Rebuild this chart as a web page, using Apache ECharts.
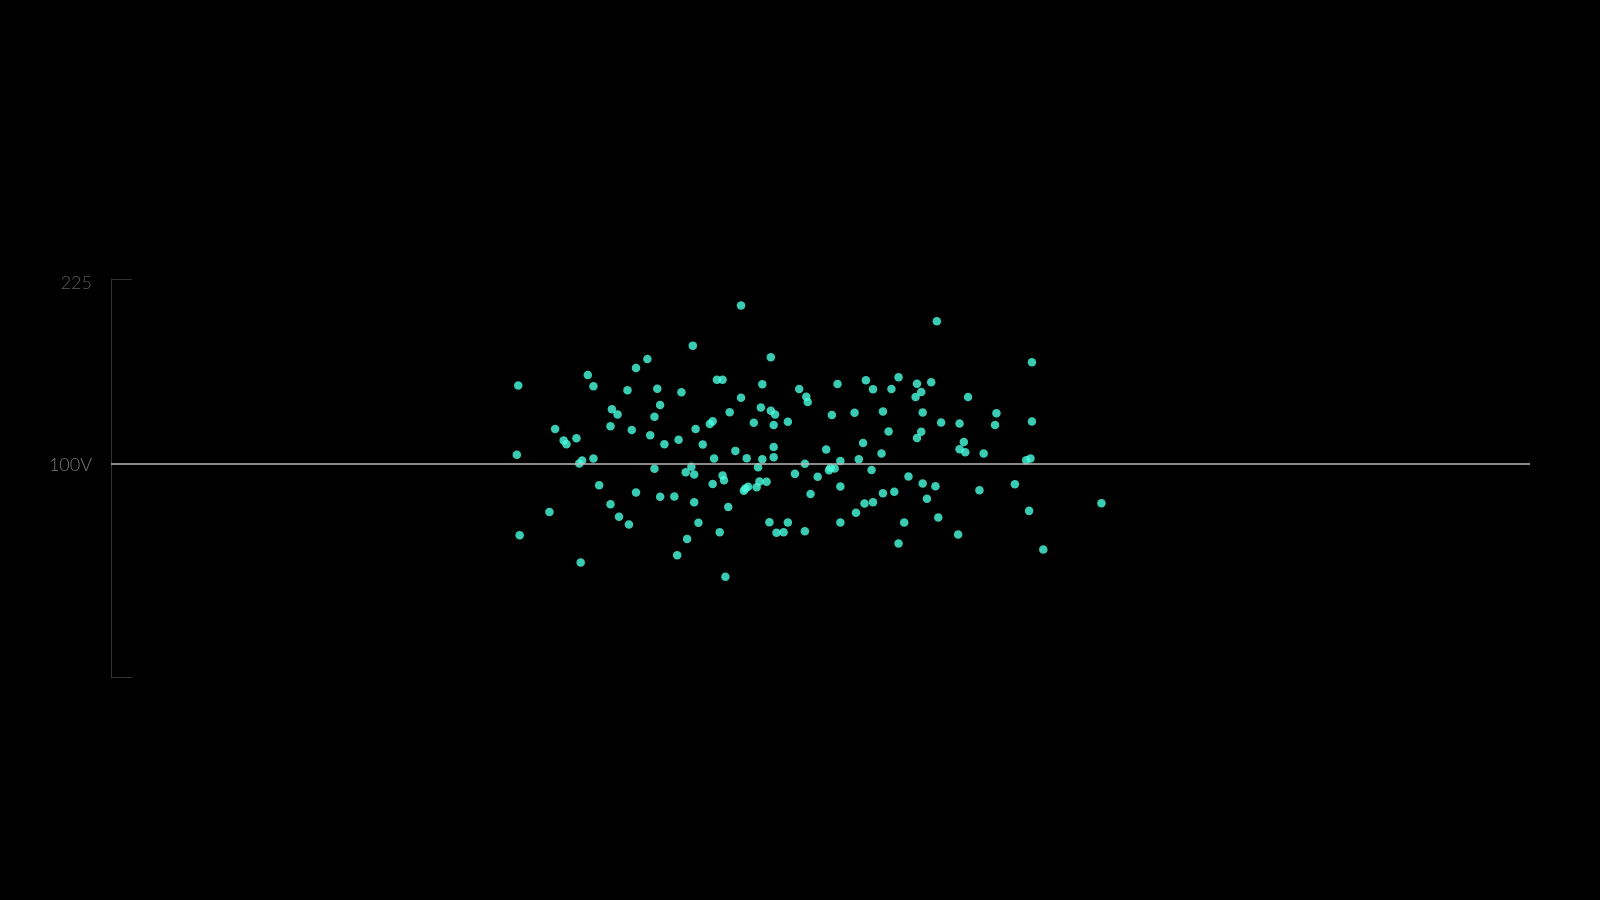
<!DOCTYPE html>
<html>
<head>
<meta charset="utf-8">
<script src="https://cdn.jsdelivr.net/npm/echarts@6/dist/echarts.min.js"></script>
<style>
  html, body { margin: 0; padding: 0; background: #000; }
  #main { width: 1600px; height: 900px; }
</style>
</head>
<body>
<div id="main"></div>
<script>
// readings: x position (0-100 along the hidden axis) and voltage
var xValues = [
  28.7, 28.6, 28.8, 30.9, 31.3, 31.9, 32.1, 32.8, 33.1, 33.0,
  33.2, 33.6, 34.0, 34.0, 34.4, 35.2, 35.8, 36.5, 37.0, 35.2,
  35.3, 35.7, 36.7, 36.4, 37.0, 37.8, 38.5, 38.7, 38.3, 38.0,
  38.3, 38.7, 39.0, 39.7, 39.9, 40.0, 40.2, 41.0, 41.2, 41.7,
  40.6, 41.4, 41.1, 40.5, 40.9, 41.1, 42.2, 42.4, 42.5, 42.4,
  42.7, 43.1, 42.9, 43.3, 43.1, 43.2, 43.5, 43.6, 44.0, 44.4,
  44.4, 44.8, 45.3, 45.6, 45.5, 44.6, 44.7, 44.9, 45.7, 45.9,
  45.9, 45.8, 46.2, 46.5, 46.5, 46.8, 46.7, 46.7, 46.7, 46.4,
  46.9, 47.4, 47.7, 47.7, 48.5, 49.0, 49.1, 48.2, 48.9, 48.9,
  49.3, 49.8, 50.4, 50.6, 50.7, 51.0, 51.4, 50.8, 51.2, 51.4,
  51.4, 52.4, 52.7, 53.0, 52.5, 53.1, 53.7, 53.6, 53.2, 53.7,
  54.4, 54.3, 54.4, 54.8, 55.0, 55.5, 55.2, 55.5, 55.9, 56.2,
  56.8, 57.1, 56.7, 57.2, 57.1, 56.8, 57.8, 58.2, 57.2, 58.1,
  57.5, 58.3, 58.5, 59.8, 59.8, 59.7, 60.1, 60.2, 60.4, 61.2,
  61.5, 62.4, 62.3, 63.7, 64.9, 64.9, 64.5, 64.8, 64.7, 65.7,
  69.8
];
var voltages = [
  152.7, 105.7, 51.2, 67.0, 123.3, 115.4, 112.9, 117.0, 32.7, 99.8,
  101.8, 159.9, 152.2, 103.2, 85.1, 72.2, 63.7, 58.4, 80.1, 125.1,
  136.6, 133.0, 122.6, 149.5, 164.7, 170.8, 150.5, 139.6, 131.5, 119.0,
  96.2, 77.2, 112.9, 77.4, 37.6, 115.9, 148.1, 179.8, 123.3, 112.7,
  48.7, 59.6, 73.6, 93.9, 97.6, 92.3, 126.7, 128.5, 103.2, 86.0,
  156.7, 156.7, 53.2, 23.0, 91.7, 88.5, 70.4, 134.6, 108.4, 207.1,
  144.5, 103.4, 127.4, 97.3, 83.7, 81.3, 82.8, 84.0, 87.6, 102.7,
  153.6, 137.8, 87.4, 171.9, 135.7, 133.0, 126.0, 111.1, 104.1, 60.0,
  52.8, 53.2, 59.8, 128.1, 150.4, 145.2, 141.6, 92.8, 99.6, 53.9,
  79.1, 90.8, 109.3, 95.3, 96.9, 96.4, 101.6, 132.8, 153.8, 84.2,
  59.8, 134.2, 102.7, 113.8, 66.4, 72.7, 73.6, 95.5, 156.3, 150.2,
  79.7, 106.6, 135.1, 121.5, 150.4, 158.3, 80.6, 45.6, 59.8, 91.0,
  154.0, 148.4, 145.0, 134.4, 121.3, 117.2, 154.9, 196.3, 86.2, 84.4,
  75.9, 63.2, 127.6, 126.9, 109.5, 51.7, 114.5, 107.5, 145.0, 81.7,
  106.6, 133.9, 126.0, 85.8, 168.5, 128.3, 102.0, 103.2, 67.7, 41.5,
  72.9
];
var yMin = -45;
var yMax = 225;
var yTickLabels = [225];
var referenceLevel = 100;
var referenceLabel = '100V';

var points = xValues.map(function (x, i) { return [x, voltages[i]]; });

var chart = echarts.init(document.getElementById('main'));
var option = {
  backgroundColor: '#000',
  animation: false,
  grid: { left: 111, right: 70, top: 279, bottom: 223 },
  xAxis: {
    type: 'value',
    min: 0,
    max: 100,
    show: false
  },
  yAxis: {
    type: 'value',
    min: yMin,
    max: yMax,
    axisLine: { show: true, lineStyle: { color: '#333', width: 1 } },
    axisTick: {
      show: true,
      inside: true,
      length: 21,
      customValues: [yMin, yMax],
      lineStyle: { color: '#333' }
    },
    axisLabel: {
      customValues: yTickLabels,
      margin: 19,
      formatter: function (v) { return '{t|' + v + '}'; },
      rich: {
        t: {
          color: '#5a5a5a',
          fontSize: 18,
          fontFamily: 'Lato',
          fontWeight: 300,
          padding: [9, 0, 0, 0]
        }
      }
    },
    splitLine: { show: false }
  },
  series: [
    {
      type: 'scatter',
      symbolSize: 8.5,
      itemStyle: { color: '#48ffe0' },
      data: points,
      markLine: {
        silent: true,
        symbol: 'none',
        lineStyle: { color: '#b8b8b8', width: 1.6, type: 'solid' },
        label: {
          position: 'start',
          distance: 19,
          formatter: '{t|' + referenceLabel + '}',
          rich: {
            t: {
              color: '#7a7a7a',
              fontSize: 18,
              fontFamily: 'Lato',
              fontWeight: 300,
              padding: [4, 0, 0, 0]
            }
          }
        },
        data: [{ yAxis: referenceLevel }]
      }
    }
  ]
};
chart.setOption(option);
</script>
</body>
</html>
